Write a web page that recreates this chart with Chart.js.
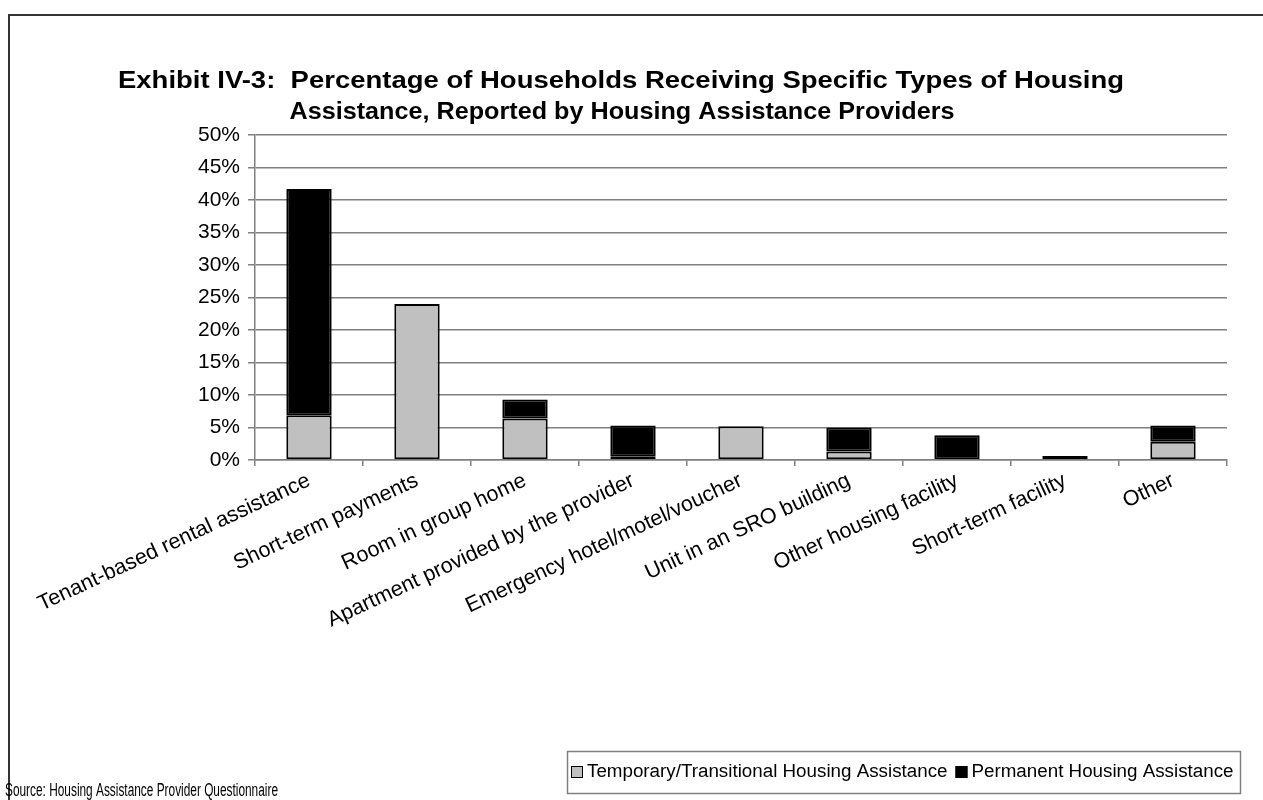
<!DOCTYPE html>
<html>
<head>
<meta charset="utf-8">
<script src="https://cdn.jsdelivr.net/npm/chart.js@4.4.1/dist/chart.umd.min.js"></script>
<style>
  html, body { margin: 0; padding: 0; background: #fff; }
  #wrap { position: relative; width: 1263px; height: 800px; }
  canvas { display: block; }
</style>
</head>
<body>
<div id="wrap"><canvas id="c" width="1263" height="800"></canvas></div>
<script>
const categories = [
  "Tenant-based rental assistance",
  "Short-term payments",
  "Room in group home",
  "Apartment provided by the provider",
  "Emergency hotel/motel/voucher",
  "Unit in an SRO building",
  "Other housing facility",
  "Short-term facility",
  "Other"
];
const temporaryValues = [6.9, 24.0, 6.4, 0.5, 5.2, 1.3, 0, 0.6, 2.8];
const permanentValues = [34.8, 0, 2.9, 4.8, 0, 3.7, 3.8, 0, 2.5];
const yTicks = [0, 5, 10, 15, 20, 25, 30, 35, 40, 45, 50];
const titleLines = [
  "Exhibit IV-3:  Percentage of Households Receiving Specific Types of Housing",
  "Assistance, Reported by Housing Assistance Providers"
];
const seriesNames = ["Temporary/Transitional Housing Assistance", "Permanent Housing Assistance"];
const sourceNote = "Source: Housing Assistance Provider Questionnaire";

const FONT = "'Liberation Sans', Arial, sans-serif";

function fitText(ctx, text, cx, cy, width, sy) {
  const w = ctx.measureText(text).width;
  ctx.save();
  ctx.translate(cx, cy);
  ctx.scale(width / w, sy);
  ctx.fillText(text, 0, 0);
  ctx.restore();
}

const decorPlugin = {
  id: 'decor',
  beforeDraw(chart) {
    const ctx = chart.ctx;
    ctx.save();
    ctx.fillStyle = '#fff';
    ctx.fillRect(0, 0, chart.width, chart.height);
    ctx.strokeStyle = '#333';
    ctx.lineWidth = 2;
    ctx.strokeRect(9, 15, 1300, 900);
    ctx.restore();
  },
  afterDraw(chart) {
    const ctx = chart.ctx;
    ctx.save();
    // title
    ctx.fillStyle = '#000';
    ctx.font = "bold 21px " + FONT;
    ctx.textAlign = 'center';
    ctx.textBaseline = 'middle';
    fitText(ctx, titleLines[0], 621, 82, 1006, 1.1);
    fitText(ctx, titleLines[1], 622, 113, 665, 1.1);
    // source
    ctx.font = "18px " + FONT;
    ctx.textAlign = 'left';
    ctx.textBaseline = 'alphabetic';
    fitText(ctx, sourceNote, 5, 796, 273, 1);
    // legend box
    ctx.strokeStyle = '#808080';
    ctx.lineWidth = 1.5;
    ctx.strokeRect(567.5, 751.5, 673, 42);
    // legend items
    ctx.font = "18.8px " + FONT;
    ctx.textBaseline = 'middle';
    let x = 571;
    const y = 772;
    chart.data.datasets.forEach((ds) => {
      ctx.fillStyle = ds.backgroundColor;
      ctx.fillRect(x, y - 6, 12, 12);
      ctx.strokeStyle = '#000';
      ctx.lineWidth = 1;
      ctx.strokeRect(x + 0.5, y - 5.5, 11, 11);
      ctx.fillStyle = '#000';
      ctx.fillText(ds.label, x + 16, y);
      x += 16 + ctx.measureText(ds.label).width + 8;
    });
    ctx.restore();
  }
};

new Chart(document.getElementById('c'), {
  type: 'bar',
  data: {
    labels: categories,
    datasets: [
      {
        label: seriesNames[0],
        data: temporaryValues,
        backgroundColor: '#c0c0c0',
        borderColor: '#000',
        borderWidth: 2,
        borderSkipped: false
      },
      {
        label: seriesNames[1],
        data: permanentValues,
        backgroundColor: '#000000',
        borderColor: '#000',
        borderWidth: 2,
        borderSkipped: false
      }
    ]
  },
  options: {
    responsive: false,
    animation: false,
    layout: { padding: { left: 185, right: 36, top: 135, bottom: 40 } },
    datasets: { bar: { categoryPercentage: 1.0, barPercentage: 0.42 } },
    plugins: {
      legend: { display: false },
      title: { display: false },
      tooltip: { enabled: false }
    },
    scales: {
      x: {
        stacked: true,
        afterFit(scale) { scale.height = 300; },
        border: { color: '#808080', width: 1.5 },
        grid: { drawOnChartArea: false, drawTicks: true, tickLength: 6, color: '#808080', lineWidth: 1.5, offset: true },
        ticks: {
          color: '#000',
          font: { family: FONT, size: 21.5 },
          minRotation: 25,
          maxRotation: 25,
          autoSkip: false,
          padding: 2
        }
      },
      y: {
        stacked: true,
        min: 0,
        max: 50,
        afterFit(scale) { scale.width = 70; },
        afterBuildTicks(scale) { scale.ticks = yTicks.map(v => ({ value: v })); },
        border: { color: '#808080', width: 1.5 },
        grid: { color: '#808080', lineWidth: 1.5, tickLength: 7 },
        ticks: {
          color: '#000',
          font: { family: FONT, size: 21 },
          padding: 8,
          callback: (v) => v + '%'
        }
      }
    }
  },
  plugins: [decorPlugin]
});
</script>
</body>
</html>
